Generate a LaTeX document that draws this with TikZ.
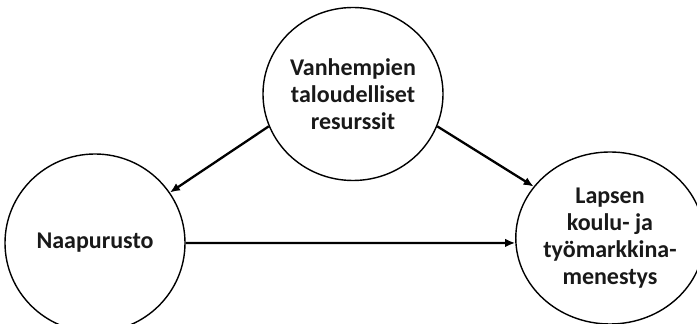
\documentclass[tikz,border=0pt]{standalone}
\usepackage{fontspec}
\setmainfont{Carlito}[BoldFont={Carlito Bold}]
\usetikzlibrary{shapes.geometric,arrows.meta}
\begin{document}
\begin{tikzpicture}[x=1pt,y=1pt,
  bubble/.style={ellipse,draw=black,line width=1.4pt,fill=white,inner sep=0pt,
    align=center,font=\fontsize{24}{27}\selectfont\bfseries,text=black!90},
  link/.style={line width=2.3pt,-{Latex[length=10pt,width=8.5pt]}}]
\useasboundingbox[fill=white] (0,0) rectangle (697,324);
\node[bubble,minimum width=180pt,minimum height=173pt] (top) at (353,230) {Vanhempien\\taloudelliset\\resurssit};
\node[bubble,minimum width=180pt,minimum height=178pt] (left) at (95,81) {Naapurusto};
\node[bubble,minimum width=174pt,minimum height=172pt] (right) at (610,86) {Lapsen\\koulu- ja\\työmarkkina-\\menestys};
\draw[link] (top.201) -- (left.34);
\draw[link] (top.-21) -- (right.146);
\draw[link] (left.east) -- (right.183);
\end{tikzpicture}
\end{document}
